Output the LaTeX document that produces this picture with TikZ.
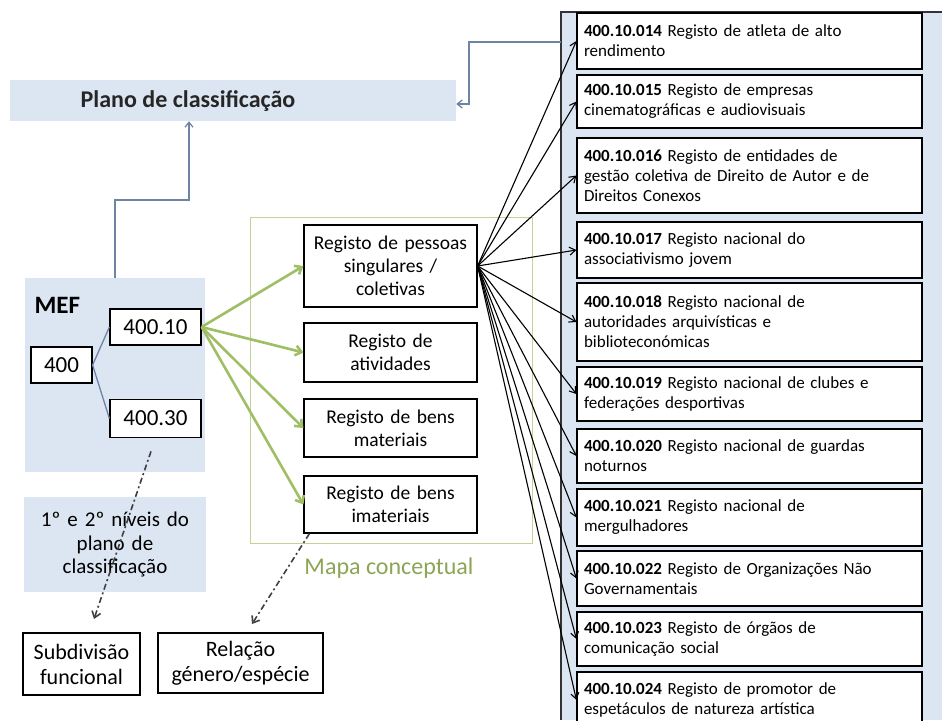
\documentclass[tikz,border=0pt]{standalone}
\usepackage{fontspec}
\setmainfont{Carlito}
\usetikzlibrary{arrows.meta,
                positioning}

\definecolor{panelblue}{RGB}{220,230,242}
\definecolor{linkblue}{RGB}{110,132,165}
\definecolor{mapgreen}{RGB}{160,190,100}
\definecolor{framegreen}{RGB}{196,210,150}
\definecolor{textgreen}{RGB}{140,165,85}

\tikzset{
  regbox/.style={draw, line width=1.2pt, fill=white, text width=331pt,
                 inner xsep=7pt, inner ysep=2pt, align=left,
                 font=\fontsize{17}{20}\selectfont},
  mapbox/.style={draw, line width=1.2pt, fill=white, text width=165pt,
                 inner xsep=4pt, align=center,
                 font=\fontsize{19.5}{23}\selectfont},
  codebox/.style={draw, line width=1.2pt, fill=white, inner sep=0pt,
                  font=\fontsize{23}{26}\selectfont},
  endbox/.style={draw, line width=1.2pt, fill=white, align=center,
                 inner sep=0pt, font=\fontsize{22}{25}\selectfont},
  bluelink/.style={draw=linkblue, line width=1.3pt},
  greenarrow/.style={draw=mapgreen, line width=2.6pt,
                     -{Straight Barb[length=6pt,width=10pt]}},
  blackarrow/.style={line width=1.1pt, -{Straight Barb[length=6pt,width=8pt]}},
  dasharrow/.style={draw=black!75, line width=1.6pt,
                    dash pattern=on 6pt off 3pt on 2pt off 3pt,
                    -{Straight Barb[length=6pt,width=9pt]}}
}

\begin{document}
\begin{tikzpicture}[x=1pt, y=-1pt]
    \clip (0,0) rectangle (942,720);
    \fill[white] (0,0) rectangle (942,720);

    % panel of the registers
    \fill[panelblue] (561,12) rectangle (942,720);
    \draw[line width=1.3pt, black!80] (561,720) -- (561,12) -- (942,12);

    % plano de classificacao
    \node[fill=panelblue, minimum width=446pt, minimum height=41pt] (plano) at (233,100.5) {};
    \node[font=\fontsize{24}{28}\selectfont\bfseries, text=black!85] (planolabel) at (188,101) {Plano de classificação};

    % MEF
    \node[fill=panelblue, minimum width=180pt, minimum height=194pt] (mef) at (115,375) {};
    \node[anchor=west, font=\fontsize{25}{28}\selectfont\bfseries] (meflabel) at (31,305) {MEF};
    \node[codebox, minimum width=61pt, minimum height=36pt] (c400) at (61.5,365) {400};
    \node[codebox, minimum width=91pt, minimum height=36pt] (c40010) at (155.5,327) {400.10};
    \node[codebox, minimum width=91pt, minimum height=38pt] (c40030) at (155.5,418.5) {400.30};
    \draw[bluelink] (c400.east) -- (c40010.west);
    \draw[bluelink] (c400.east) -- (c40030.west);

    \node[fill=panelblue, minimum width=180pt, minimum height=95pt, text width=176pt,
          align=center, font=\fontsize{21}{23.5}\selectfont] (niveis) at (115,544.5)
          {1º e 2º níveis do\\plano de\\classificação};

    % mapa conceptual
    \node[draw=framegreen, line width=1pt, minimum width=282pt, minimum height=326pt] (mapa) at (391,380) {};
    \node[text=textgreen, font=\fontsize{24}{28}\selectfont] (mapalabel) at (389,568) {Mapa conceptual};

    \node[mapbox, minimum height=82pt] (pessoas) at (390.5,266) {Registo de pessoas\\singulares /\\coletivas};
    \node[mapbox, minimum height=59pt] (atividades) at (390.5,352.5) {Registo de\\atividades};
    \node[mapbox, minimum height=58pt] (materiais) at (390.5,428) {Registo de bens\\materiais};
    \node[mapbox, minimum height=57pt] (imateriais) at (390.5,504.5) {Registo de bens\\imateriais};

    \foreach \t in {pessoas, atividades, materiais, imateriais}
        \draw[greenarrow] (c40010.east) -- (\t.west);

    % registos
    \node[regbox, minimum height=56pt] (r14) at (749.5,41) {\textbf{400.10.014} Registo de atleta de alto\\rendimento};
    \node[regbox, minimum height=53pt] (r15) at (749.5,101.5) {\textbf{400.10.015} Registo de empresas\\cinematográficas e audiovisuais};
    \node[regbox, minimum height=75pt] (r16) at (749.5,175.5) {\textbf{400.10.016} Registo de entidades de\\gestão coletiva de Direito de Autor e de\\Direitos Conexos};
    \node[regbox, minimum height=56pt] (r17) at (749.5,250) {\textbf{400.10.017} Registo nacional do\\associativismo jovem};
    \node[regbox, minimum height=78pt] (r18) at (749.5,322) {\textbf{400.10.018} Registo nacional de\\autoridades arquivísticas e\\biblioteconómicas};
    \node[regbox, minimum height=54pt] (r19) at (749.5,394) {\textbf{400.10.019} Registo nacional de clubes e\\federações desportivas};
    \node[regbox, minimum height=54pt] (r20) at (749.5,456) {\textbf{400.10.020} Registo nacional de guardas\\noturnos};
    \node[regbox, minimum height=57pt] (r21) at (749.5,517.5) {\textbf{400.10.021} Registo nacional de\\mergulhadores};
    \node[regbox, minimum height=55pt] (r22) at (749.5,578.5) {\textbf{400.10.022} Registo de Organizações Não\\Governamentais};
    \node[regbox, minimum height=54pt] (r23) at (749.5,639) {\textbf{400.10.023} Registo de órgãos de\\comunicação social};
    \node[regbox, minimum height=56pt] (r24) at (749.5,700) {\textbf{400.10.024} Registo de promotor de\\espetáculos de natureza artística};

    \foreach \i in {14,...,24}
        \draw[blackarrow] (pessoas.east) -- (r\i.west);

    % links to the plano
    \coordinate (mefbend) at (189,200);
    \draw[bluelink, -{Straight Barb[length=5pt,width=8pt]}] (mef.north) |- (mefbend) -- (mefbend |- plano.south);
    \coordinate (panelcorner) at (561,42);
    \coordinate (planobend) at (469,104);
    \draw[bluelink, -{Straight Barb[length=5pt,width=8pt]}] (panelcorner) -| (planobend) -- (planobend -| plano.east);

    % subdivisao e relacao
    \node[endbox, minimum width=117pt, minimum height=62pt] (subdiv) at (81.5,664) {Subdivisão\\funcional};
    \node[endbox, minimum width=165pt, minimum height=60pt] (relacao) at (240.5,663) {Relação\\género/espécie};

    \coordinate (tipsub) at (94,619);
    \coordinate (tiprel) at (252,624);
    \draw[dasharrow, shorten <=14pt] (c40030.south) -- (tipsub);
    \draw[dasharrow] ([xshift=6pt]imateriais.south west) -- (tiprel);
\end{tikzpicture}
\end{document}
